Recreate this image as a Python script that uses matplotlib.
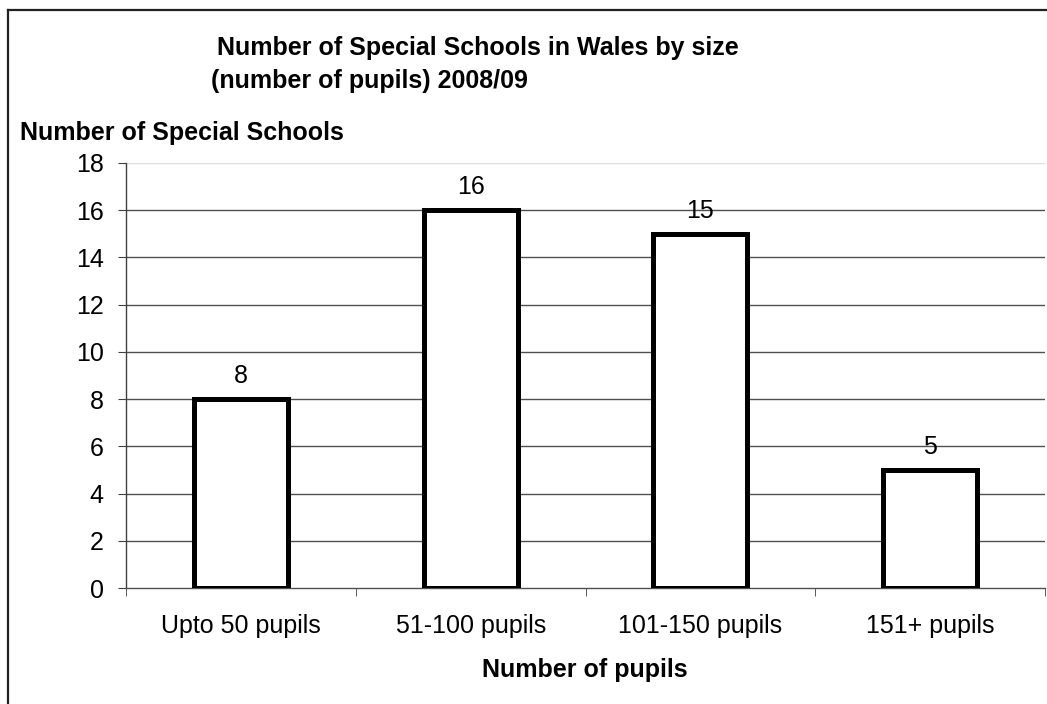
import matplotlib.pyplot as plt
from matplotlib.lines import Line2D

# Dados do gráfico
categorias = ['Upto 50 pupils', '51-100 pupils', '101-150 pupils', '151+ pupils']
escolas = [8, 16, 15, 5]
ticks_y = [0, 2, 4, 6, 8, 10, 12, 14, 16, 18]

plt.rcParams['font.family'] = ['Liberation Sans', 'DejaVu Sans']

fig = plt.figure(figsize=(10.47, 7.04), dpi=100)
ax = fig.add_axes([126 / 1047, 1 - 588 / 704, (1045 - 126) / 1047, (588 - 163) / 704])

x = list(range(len(categorias)))
barras = ax.bar(x, escolas, width=0.41, facecolor='white', edgecolor='black', linewidth=3.6, zorder=3)

# Rótulos de valor acima das barras
for barra, valor in zip(barras, escolas):
    ax.text(barra.get_x() + barra.get_width() / 2, valor + 0.47, str(valor),
            ha='center', va='bottom', fontsize=18, zorder=4)

ax.set_xlim(-0.5, len(categorias) - 0.5)
ax.set_ylim(0, 18)
ax.set_yticks(ticks_y)
ax.tick_params(axis='y', labelsize=18, length=6, color='#404040', pad=10)

# Rótulos de categoria no centro, marcas nas fronteiras
ax.set_xticks(x)
ax.set_xticklabels(categorias, fontsize=18)
ax.tick_params(axis='x', which='major', length=0, pad=19)
ax.set_xticks([i - 0.5 for i in range(len(categorias) + 1)], minor=True)
ax.tick_params(axis='x', which='minor', length=6, color='#404040')

for v in ticks_y[1:-1]:
    ax.axhline(v, color='#505050', linewidth=1, zorder=1)
ax.axhline(18, color='#dddddd', linewidth=1, zorder=1)

for lado in ['top', 'right']:
    ax.spines[lado].set_visible(False)
ax.spines['left'].set_color('#404040')
ax.spines['bottom'].set_color('#505050')
ax.spines['left'].set_linewidth(1)
ax.spines['bottom'].set_linewidth(1)

# Títulos
fig.text(478 / 1047, 1 - 55 / 704, 'Number of Special Schools in Wales by size',
         ha='center', va='baseline', fontsize=18, fontweight='bold')
fig.text(211 / 1047, 1 - 88 / 704, '(number of pupils) 2008/09',
         ha='left', va='baseline', fontsize=18, fontweight='bold')
fig.text(20 / 1047, 1 - 140 / 704, 'Number of Special Schools',
         ha='left', va='baseline', fontsize=18, fontweight='bold')
fig.text(585 / 1047, 1 - 677 / 704, 'Number of pupils',
         ha='center', va='baseline', fontsize=18, fontweight='bold')

# Borda externa (topo e esquerda)
fig.add_artist(Line2D([8 / 1047, 1], [1 - 10 / 704, 1 - 10 / 704], color='#222222', linewidth=1.6))
fig.add_artist(Line2D([8 / 1047, 8 / 1047], [0, 1 - 10 / 704], color='#222222', linewidth=1.6))

fig.savefig('out.png', dpi=100)
